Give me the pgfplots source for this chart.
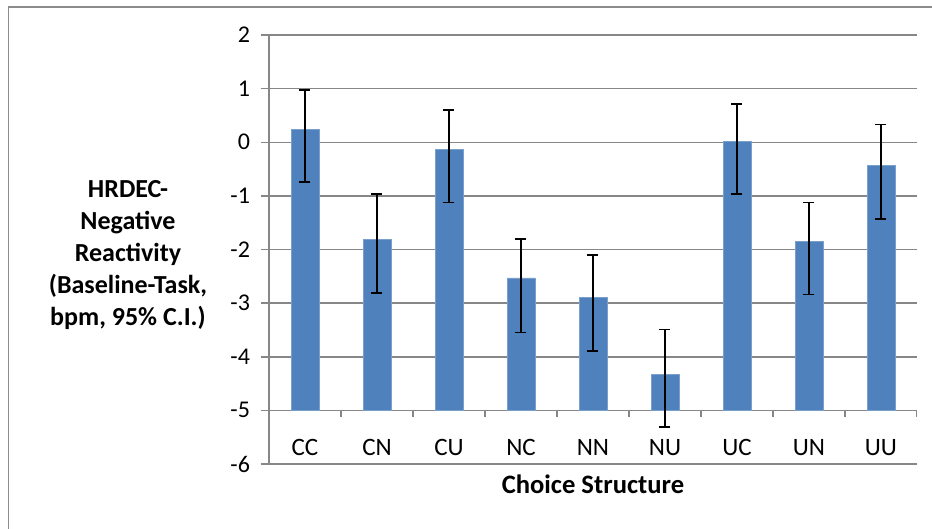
\documentclass[border=0pt]{standalone}
\usepackage{fontspec}
\setmainfont{Carlito}
\usepackage{pgfplots}
\pgfplotsset{compat=1.18}

\definecolor{barblue}{HTML}{4F81BD}
\definecolor{gridgray}{HTML}{878787}
\definecolor{framegray}{HTML}{8C8C8C}

\begin{document}
\begin{tikzpicture}
\path[use as bounding box] (-134.5pt,-32.5pt) rectangle (331.5pt,232pt);
\draw[framegray, line width=0.9pt] (-130.25pt,-32.5pt) -- (-130.25pt,228.5pt) -- (331.5pt,228.5pt);
\begin{axis}[
  at={(0,0)}, anchor=south west,
  scale only axis, width=324pt, height=214.5pt,
  xmin=-0.5, xmax=8.5, ymin=-6, ymax=2,
  % bars hang from the category axis at -5, as in the original sheet
  y coord trafo/.code={\pgfmathparse{#1+5}},
  y coord inv trafo/.code={\pgfmathparse{#1-5}},
  ytick={-6,-5,...,2},
  xtick={0,...,8},
  xticklabels={CC,CN,CU,NC,NN,NU,UC,UN,UU},
  axis lines*=left,
  axis line style={gridgray, line width=0.75pt},
  ymajorgrids,
  grid style={gridgray, line width=0.75pt},
  ytick align=outside,
  ytick style={gridgray, line width=0.75pt},
  major tick length=4pt,
  xtick style={draw=none},
  /pgf/number format/assume math mode=true,
  yticklabel style={font=\fontsize{12}{14}\selectfont, anchor=east, xshift=-2pt},
  xticklabel style={font=\fontsize{12.5}{14}\selectfont, anchor=base, yshift=4.35pt},
  every axis x label/.style={at={(axis description cs:0.5,0)}, anchor=base, yshift=-15pt,
    font=\bfseries\fontsize{13.3}{15}\selectfont},
  every axis y label/.style={at={(axis description cs:-0.2176,0.487)}, anchor=center,
    align=center, font=\bfseries\fontsize{13}{16}\selectfont},
  xlabel={Choice Structure},
  ylabel={HRDEC-\\Negative\\Reactivity\\(Baseline-Task,\\bpm, 95\% C.I.)},
]
\addplot[ybar, bar width=13.85pt, fill=barblue, draw=barblue!75!white, line width=0.3pt,
  error bars/.cd, y dir=both, y explicit,
  error bar style={black, line width=0.8pt},
  error mark options={rotate=90, mark size=2.75pt, black, line width=0.8pt}]
coordinates {
  (0,0.235)  += (0,0.741) -= (0,0.981)
  (1,-1.817) += (0,0.847) -= (0,0.989)
  (2,-0.138) += (0,0.741) -= (0,0.982)
  (3,-2.53)  += (0,0.73)  -= (0,1.02)
  (4,-2.90)  += (0,0.80)  -= (0,0.99)
  (5,-4.33)  += (0,0.84)  -= (0,0.98)
  (6,0.01)   += (0,0.70)  -= (0,0.98)
  (7,-1.855) += (0,0.73)  -= (0,0.985)
  (8,-0.436) += (0,0.77)  -= (0,0.99)
};
\pgfplotsinvokeforeach{0.5,1.5,...,8.5}{
  \draw[gridgray, line width=0.75pt] (axis cs:#1,-5) -- ([yshift=-3.5pt]axis cs:#1,-5);
}
\end{axis}
\end{tikzpicture}
\end{document}
